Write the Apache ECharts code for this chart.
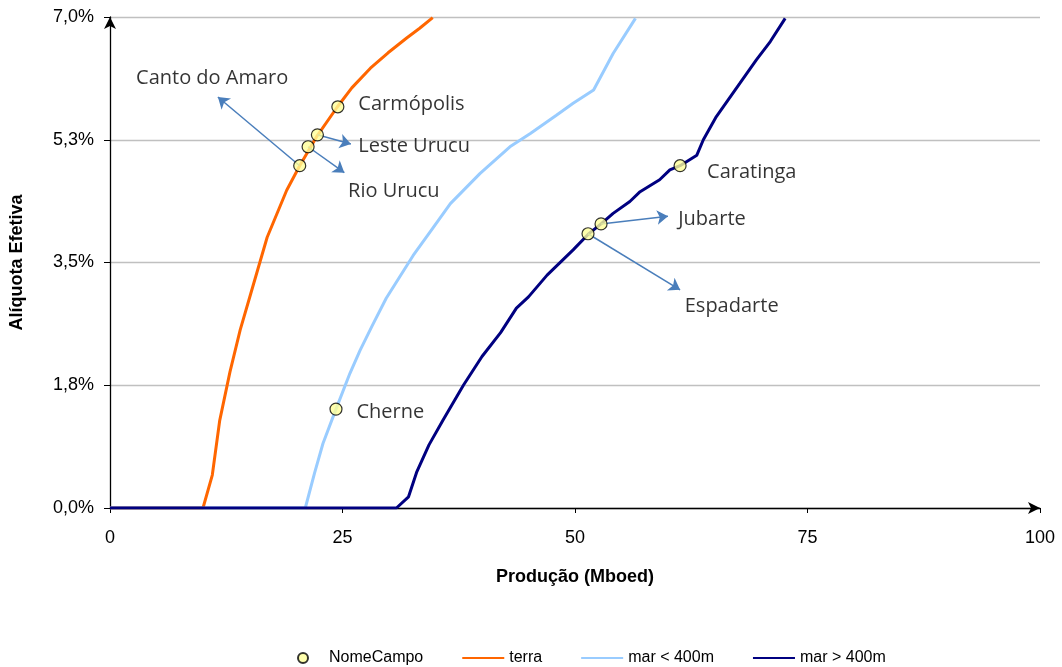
<!DOCTYPE html>
<html>
<head>
<meta charset="utf-8">
<script src="https://cdn.jsdelivr.net/npm/echarts@6/dist/echarts.min.js"></script>
<style>html,body{margin:0;padding:0;background:#fff}#c{width:1062px;height:667px}</style>
</head>
<body>
<div id="c"></div>
<script>
// ---- data ----
var terraX = [0, 10.0, 11.0, 11.8, 12.9, 14.0, 15.1, 16.9, 19.0, 20.4, 22.2, 24.4, 26.0, 28.0, 29.9, 31.9, 33.3, 34.7];
var terraY = [0, 0, 0.47, 1.25, 1.94, 2.54, 3.04, 3.86, 4.53, 4.88, 5.29, 5.71, 5.99, 6.27, 6.49, 6.70, 6.84, 6.99];

var rasoX = [0, 21.0, 22.0, 22.9, 24.3, 25.8, 26.9, 28.2, 29.7, 32.6, 34.5, 36.6, 39.8, 43.0, 45.2, 48.0, 49.8, 52.0, 54.1, 56.5];
var rasoY = [0, 0, 0.50, 0.92, 1.41, 1.92, 2.25, 2.60, 2.99, 3.60, 3.95, 4.34, 4.77, 5.15, 5.34, 5.60, 5.77, 5.96, 6.48, 6.98];

var fundoX = [0, 30.8, 32.1, 33.0, 34.3, 35.8, 38.0, 40.0, 42.0, 43.7, 45.0, 47.0, 49.8, 51.4, 52.8, 54.1, 55.9, 57.0, 59.1, 60.2, 61.3, 63.1, 63.8, 65.2, 67.7, 69.5, 71.0, 72.6];
var fundoY = [0, 0, 0.16, 0.52, 0.90, 1.25, 1.75, 2.16, 2.50, 2.85, 3.01, 3.32, 3.68, 3.90, 4.05, 4.20, 4.37, 4.51, 4.68, 4.82, 4.88, 5.03, 5.25, 5.58, 6.05, 6.39, 6.65, 6.98];

var campoNomes = ['Canto do Amaro', 'Rio Urucu', 'Leste Urucu', 'Carmópolis', 'Cherne', 'Espadarte', 'Jubarte', 'Caratinga'];
var campoX = [20.4, 21.3, 22.3, 24.5, 24.3, 51.4, 52.8, 61.3];
var campoY = [4.88, 5.15, 5.32, 5.72, 1.41, 3.91, 4.05, 4.88];

var legendNames = ['NomeCampo', 'terra', 'mar < 400m', 'mar > 400m'];
var xTicks = [0, 25, 50, 75, 100];
var yTickLabels = ['0,0%', '1,8%', '3,5%', '5,3%', '7,0%'];

// annotation layout (label anchor points and arrow ends, in axis units)
var labelAnchor = {
  'Canto do Amaro': [2.8, 6.13], 'Carmópolis': [26.7, 5.76], 'Leste Urucu': [26.7, 5.16],
  'Rio Urucu': [25.6, 4.51], 'Cherne': [26.5, 1.37], 'Caratinga': [64.2, 4.79],
  'Jubarte': [61.1, 4.12], 'Espadarte': [61.8, 2.88]
};
var arrowEnd = {
  'Canto do Amaro': [11.6, 5.86], 'Leste Urucu': [25.9, 5.19], 'Rio Urucu': [25.2, 4.78],
  'Jubarte': [60.0, 4.16], 'Espadarte': [61.3, 3.11]
};

function zip(a, b) { return a.map(function (v, i) { return [v, b[i]]; }); }

var arrows = [];
campoNomes.forEach(function (n, i) {
  if (arrowEnd[n]) arrows.push({ coords: [[campoX[i], campoY[i]], arrowEnd[n]] });
});
var labelData = campoNomes.map(function (n) { return { value: labelAnchor[n], name: n }; });

var lineIcon = 'path://M0,0 L0.01,0 L0,0.01 Z M0,4 L42,4 L42,6 L0,6 Z M0,10 L0.01,10 L0,9.99 Z';
var legendData = legendNames.map(function (n, i) {
  return i === 0 ? { name: n, icon: 'circle' } : { name: n, icon: lineIcon };
});

var tickFont = 'Liberation Sans';
var chart = echarts.init(document.getElementById('c'), null, { renderer: 'canvas' });
chart.setOption({
  animation: false,
  backgroundColor: '#fff',
  grid: { left: 110, right: 22, top: 17, bottom: 159, containLabel: false },
  xAxis: {
    type: 'value', min: 0, max: 100, interval: 25,
    name: 'Produção (Mboed)', nameLocation: 'middle', nameGap: 60,
    nameTextStyle: { fontFamily: 'Liberation Sans', fontWeight: 'bold', fontSize: 18, color: '#000' },
    axisLine: { show: true, onZero: false, symbol: ['none', 'arrow'], symbolSize: [9, 12], lineStyle: { color: '#000', width: 1.3 } },
    axisTick: { show: true, length: 5, lineStyle: { color: '#000' } },
    axisLabel: { margin: 21, fontFamily: tickFont, fontSize: 18, color: '#000' },
    splitLine: { show: false }
  },
  yAxis: {
    type: 'value', min: 0, max: 7, interval: 1.75,
    name: 'Alíquota Efetiva', nameLocation: 'middle', nameGap: 84,
    nameTextStyle: { fontFamily: 'Liberation Sans', fontWeight: 'bold', fontSize: 18, color: '#000' },
    axisLine: { show: true, symbol: ['none', 'arrow'], symbolSize: [9, 12], lineStyle: { color: '#000', width: 1.3 } },
    axisTick: { show: true, length: 6, lineStyle: { color: '#000' } },
    axisLabel: { margin: 16, fontFamily: tickFont, fontSize: 18, color: '#000',
      formatter: function (v) { return yTickLabels[Math.round(v / 1.75)]; } },
    splitLine: { show: true, lineStyle: { color: '#c0c0c0', width: 1.3 } }
  },
  legend: {
    data: legendData, left: 292, top: 645, itemWidth: 42, itemHeight: 10, itemGap: 39,
    textStyle: { fontFamily: 'Liberation Sans', fontSize: 16, color: '#000' }
  },
  series: [
    { name: 'terra', type: 'line', data: zip(terraX, terraY), symbol: 'none', z: 2,
      lineStyle: { color: '#ff6600', width: 3 }, itemStyle: { color: '#ff6600' } },
    { name: 'mar < 400m', type: 'line', data: zip(rasoX, rasoY), symbol: 'none', z: 3,
      lineStyle: { color: '#99ccff', width: 3 }, itemStyle: { color: '#99ccff' } },
    { name: 'mar > 400m', type: 'line', data: zip(fundoX, fundoY), symbol: 'none', z: 4,
      lineStyle: { color: '#000080', width: 3 }, itemStyle: { color: '#000080' } },
    { name: 'arrows', type: 'lines', coordinateSystem: 'cartesian2d', z: 5, silent: true,
      symbol: ['none', 'arrow'], symbolSize: 11,
      lineStyle: { color: '#4a7ebb', width: 1.5, opacity: 1 }, data: arrows },
    { name: 'NomeCampo', type: 'scatter', data: zip(campoX, campoY), symbol: 'circle', symbolSize: 12, z: 6,
      itemStyle: { color: '#ffff99', borderColor: '#000', borderWidth: 1.2 } },
    { name: 'labels', type: 'scatter', data: labelData, symbolSize: 0, z: 7, silent: true,
      label: { show: true, position: 'right', distance: 0, formatter: '{b}',
        fontFamily: 'Open Sans', fontSize: 20, color: '#000' } }
  ]
});
</script>
</body>
</html>
